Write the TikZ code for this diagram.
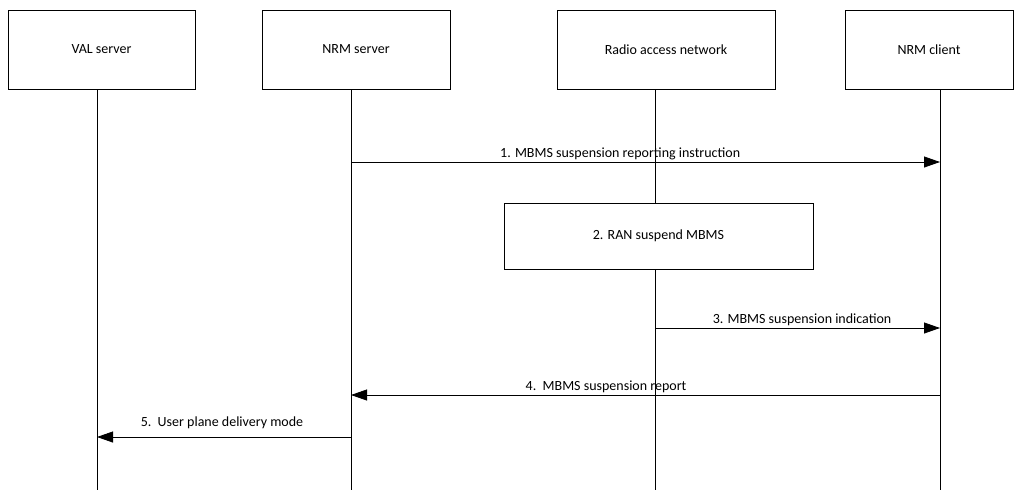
\documentclass[tikz,border=0pt]{standalone}
\usepackage{fontspec}
\setmainfont{Carlito}
\usepackage{tikz}
\usetikzlibrary{arrows.meta, positioning}

\begin{document}
\begin{tikzpicture}[x=1pt, y=-1pt, >={Triangle[length=16pt, width=11pt]},
    font=\fontsize{14}{16}\selectfont,
    actor/.style={draw, line width=0.8pt, minimum height=79pt, inner sep=0pt},
    life/.style={line width=0.8pt},
    msg/.style={->, line width=0.8pt},
    lbl/.style={above, inner sep=2pt}]
  \useasboundingbox (0,0) rectangle (1022,490);
  % Participants
  \node[actor, minimum width=187pt] (val) at (101.5,49.5) {VAL server};
  \node[actor, minimum width=188pt] (nrms) at (356,49.5) {NRM server};
  \node[actor, minimum width=218pt] (ran) at (666,49.5) {Radio access network};
  \node[actor, minimum width=168pt] (nrmc) at (929,49.5) {NRM client};
  % Lifeline ends
  \coordinate (valtop) at (97,89);   \coordinate (valbot) at (97,490);
  \coordinate (nrmstop) at (351,89); \coordinate (nrmsbot) at (351,490);
  \coordinate (rantop) at (655,89);  \coordinate (ranbot) at (655,490);
  \coordinate (nrmctop) at (940,89); \coordinate (nrmcbot) at (940,490);
  \draw[life] (valtop) -- (valbot);
  \draw[life] (nrmstop) -- (nrmsbot);
  \draw[life] (rantop) -- (ranbot);
  \draw[life] (nrmctop) -- (nrmcbot);
  % Message points
  \coordinate (m1a) at (351,162); \coordinate (m1b) at (940,162);
  \coordinate (m3a) at (655,328); \coordinate (m3b) at (940,328);
  \coordinate (m4a) at (940,395); \coordinate (m4b) at (351,395);
  \coordinate (m5a) at (351,437); \coordinate (m5b) at (97,437);
  % Steps
  \draw[msg] (m1a) -- node[lbl, pos=0.457]{1. MBMS suspension reporting instruction} (m1b);
  \node[draw, fill=white, line width=0.8pt, minimum width=309pt, minimum height=66pt]
    (suspend) at (658.5,236) {2. RAN suspend MBMS};
  \draw[msg] (m3a) -- node[lbl, pos=0.516]{3. MBMS suspension indication} (m3b);
  \draw[msg] (m4a) -- node[lbl, pos=0.567]{4.\ \ MBMS suspension report} (m4b);
  \draw[msg] (m5a) -- node[lbl, pos=0.508, yshift=6pt]{5.\ \ User plane delivery mode} (m5b);
\end{tikzpicture}
\end{document}
